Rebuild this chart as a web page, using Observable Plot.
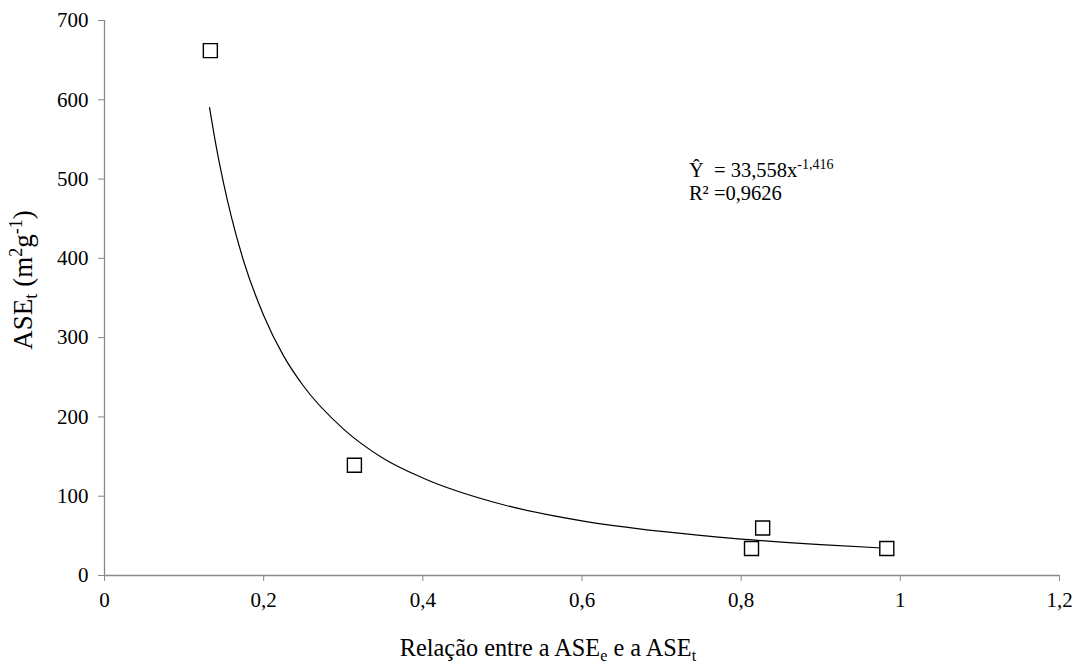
<!DOCTYPE html>
<html>
<head>
<meta charset="utf-8">
<script src="https://cdn.jsdelivr.net/npm/d3@7"></script>
<script src="https://cdn.jsdelivr.net/npm/@observablehq/plot@0.6"></script>
<style>
  html, body { margin: 0; padding: 0; background: #fff; }
  #chart svg { display: block; }
  #chart svg, #chart svg text, #chart svg tspan { font-family: "Liberation Serif", "Times New Roman", serif !important; }
</style>
</head>
<body>
<div id="chart"></div>
<script>
// Observed points (relação ASEe/ASEt, ASEt)
const pointX = [0.133, 0.314, 0.813, 0.827, 0.983];
const pointY = [662, 139, 34, 60, 34];

// Trend line
const curveX = [0.132, 0.14, 0.15, 0.16, 0.175, 0.2, 0.225, 0.25, 0.3, 0.35, 0.4, 0.5, 0.6, 0.7, 0.8, 0.9, 0.983];
const curveY = [590, 543, 493, 450, 396, 328, 277, 239, 185, 148, 123, 89.5, 69, 55.6, 46, 39, 34.4];

// Ticks
const xTicks = [0, 0.2, 0.4, 0.6, 0.8, 1, 1.2];
const xTickLabels = ["0", "0,2", "0,4", "0,6", "0,8", "1", "1,2"];
const yTicks = [0, 100, 200, 300, 400, 500, 600, 700];
const yTickLabels = ["0", "100", "200", "300", "400", "500", "600", "700"];

// Texts
const equationMain = "Ŷ  = 33,558x";
const equationExp = "-1,416";
const r2Text = "R² =0,9626";

const points = pointX.map((x, i) => ({x, y: pointY[i]}));
const curve = curveX.map((x, i) => ({x, y: curveY[i]}));

const axisGray = "#898989";
const font = "Liberation Serif";

const plot = Plot.plot({
  width: 1080,
  height: 665,
  marginLeft: 104,
  marginRight: 21,
  marginTop: 20,
  marginBottom: 90,
  style: {fontFamily: font, fontSize: "21px", color: "#000", background: "#fff"},
  x: {domain: [0, 1.2]},
  y: {domain: [0, 700]},
  marks: [
    Plot.ruleY([0], {stroke: axisGray, strokeWidth: 1.3}),
    Plot.ruleX([0], {stroke: axisGray, strokeWidth: 1.3}),
    Plot.axisX({ticks: xTicks, tickFormat: (d, i) => xTickLabels[i], tickSize: 6, tickPadding: 11, stroke: axisGray, fill: "#000", label: null, fontSize: 21, fontFamily: font}),
    Plot.axisY({ticks: yTicks, tickFormat: (d, i) => yTickLabels[i], tickSize: 6, tickPadding: 10, stroke: axisGray, fill: "#000", label: null, fontSize: 21, fontFamily: font}),
    Plot.line(curve, {x: "x", y: "y", curve: "monotone-x", stroke: "#000", strokeWidth: 1.2}),
    Plot.dot(points, {x: "x", y: "y", symbol: "square", r: 7.9, stroke: "#000", fill: "#fff", strokeWidth: 1.4})
  ]
});

const svg = d3.select(plot);
const sx = plot.scale("x");
const sy = plot.scale("y");

// Y axis title
const yTitle = svg.append("text")
  .attr("transform", `translate(32,280) rotate(-90)`)
  .attr("text-anchor", "middle")
  .attr("font-size", 27)
  .attr("fill", "#000");
yTitle.append("tspan").text("ASE");
yTitle.append("tspan").attr("font-size", 18).attr("dy", 5).text("t");
yTitle.append("tspan").attr("dy", -5).text(" (m");
yTitle.append("tspan").attr("font-size", 18).attr("dy", -10).text("2");
yTitle.append("tspan").attr("dy", 10).text("g");
yTitle.append("tspan").attr("font-size", 18).attr("dy", -10).text("-1");
yTitle.append("tspan").attr("dy", 10).text(")");

// X axis title
const xTitle = svg.append("text")
  .attr("x", 548)
  .attr("y", 656)
  .attr("text-anchor", "middle")
  .attr("font-size", 24.3)
  .attr("fill", "#000");
xTitle.append("tspan").text("Relação entre a ASE");
xTitle.append("tspan").attr("font-size", 16).attr("dy", 5).text("e");
xTitle.append("tspan").attr("dy", -5).text(" e a ASE");
xTitle.append("tspan").attr("font-size", 16).attr("dy", 5).text("t");

// Equation annotation
const ax = sx.apply(0.735);
const eq = svg.append("text")
  .attr("x", ax)
  .attr("y", sy.apply(502))
  .attr("text-anchor", "start")
  .attr("font-size", 20.5)
  .attr("fill", "#000")
  .style("white-space", "pre");
eq.append("tspan").text(equationMain);
eq.append("tspan").attr("font-size", 14).attr("dy", -8).text(equationExp);

svg.append("text")
  .attr("x", ax)
  .attr("y", sy.apply(473))
  .attr("text-anchor", "start")
  .attr("font-size", 20.5)
  .attr("fill", "#000")
  .text(r2Text);

svg.selectAll("text, tspan").style("font-family", "'Liberation Serif', serif");

document.getElementById("chart").appendChild(plot);
</script>
</body>
</html>
